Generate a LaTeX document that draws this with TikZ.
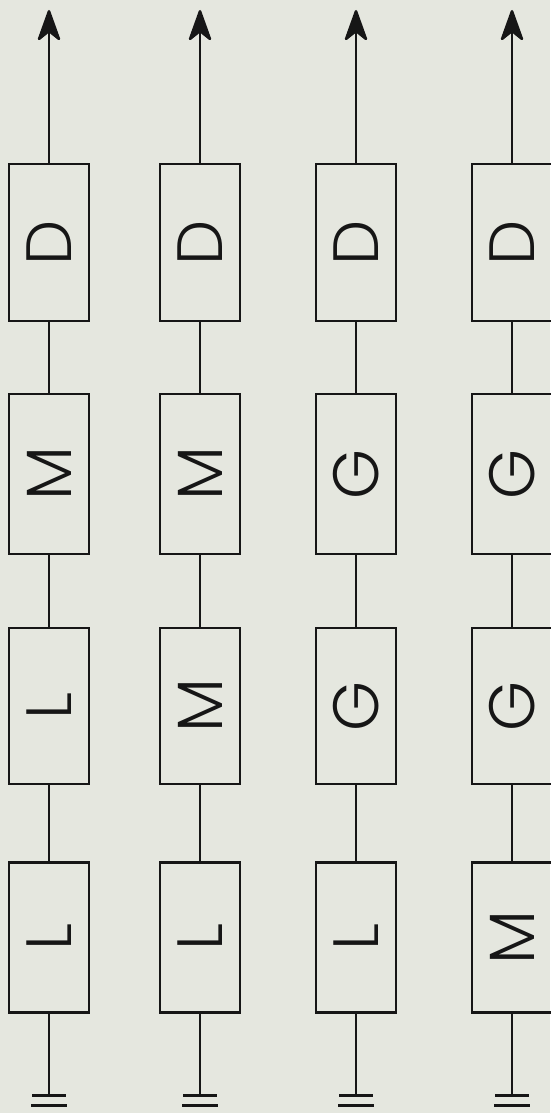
\documentclass[tikz,border=0pt]{standalone}
\usepackage{fontspec}
\newfontfamily\lett{Poppins Light}
\usetikzlibrary{arrows.meta}
\definecolor{paper}{RGB}{229,231,223}
\definecolor{ink}{RGB}{22,22,22}
\tikzset{
  box/.style={draw=ink, line width=2.7pt, minimum width=80pt, inner sep=0pt},
  lbl/.style={rotate=90, text=ink, inner sep=0pt, font=\lett\fontsize{64}{64}\selectfont},
  ln/.style={draw=ink, line width=2.5pt},
  bar/.style={draw=ink, line width=3pt},
  tip/.style={-{Stealth[length=35pt,width=25pt,inset=10pt,round]}}
}
\begin{document}
\begin{tikzpicture}[x=1pt,y=-1pt]
\fill[paper] (0,0) rectangle (550,1113);
\useasboundingbox (0,0) rectangle (550,1113);
\foreach \c/\x/\a/\b/\d in {1/49/M/L/L, 2/200/M/M/L, 3/356/G/G/L, 4/512/G/G/M} {
  \node[box, minimum height=157pt] (r1\c) at (\x,242.5) {};
  \node[box, minimum height=160pt] (r2\c) at (\x,474) {};
  \node[box, minimum height=156pt] (r3\c) at (\x,706) {};
  \node[box, minimum height=150pt] (r4\c) at (\x,937.5) {};
  \node[lbl] (l1\c) at (r1\c) {D};
  \node[lbl] (l2\c) at (r2\c) {\a};
  \node[lbl] (l3\c) at (r3\c) {\b};
  \node[lbl] (l4\c) at (r4\c) {\d};
  \coordinate (t\c) at (\x,10);
  \coordinate (g\c) at (\x,1095);
  \draw[ln, tip] (r1\c.north) -- (t\c);
  \draw[ln] (r1\c.south) -- (r2\c.north);
  \draw[ln] (r2\c.south) -- (r3\c.north);
  \draw[ln] (r3\c.south) -- (r4\c.north);
  \draw[ln] (r4\c.south) -- (g\c);
  \draw[bar] ([xshift=-17pt]g\c) -- ([xshift=17pt]g\c);
  \draw[bar] ([xshift=-18pt,yshift=-10pt]g\c) -- ([xshift=18pt,yshift=-10pt]g\c);
}
\end{tikzpicture}
\end{document}
